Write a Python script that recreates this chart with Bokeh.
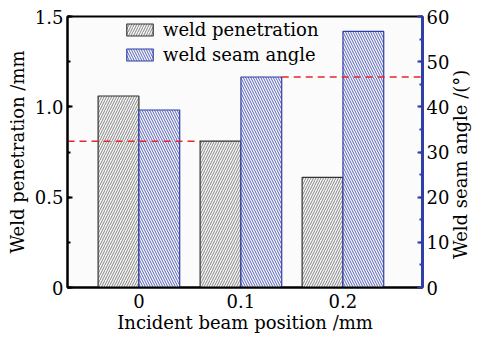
import math
from bokeh.plotting import figure
from bokeh.models import (Range1d, LinearAxis, FixedTicker, SingleIntervalTicker,
                          Legend, LegendItem, ColumnDataSource)
from bokeh.embed import file_html
from bokeh.resources import INLINE

positions = ["0", "0.1", "0.2"]
penetration = [1.06, 0.81, 0.61]      # mm
seam_angle = [39.3, 46.6, 56.7]       # degrees
pen_ticks = ["0", "0.5", "1.0", "1.5"]
ang_ticks = ["0", "10", "20", "30", "40", "50", "60"]

FONT = "DejaVu Serif"
BLUE = "#2f3fa6"
FS = "18px"

idx = list(range(len(positions)))
x_lo, x_hi = -0.70, 2.78

p = figure(width=484, height=337, output_backend="svg", toolbar_location=None,
           x_range=Range1d(x_lo, x_hi), y_range=Range1d(0, 1.5),
           min_border_left=67, min_border_right=55, min_border_top=16, min_border_bottom=50)
p.extra_y_ranges = {"ang": Range1d(0, 60)}
p.grid.visible = False
p.background_fill_color = "#fbfbfb"
p.border_fill_color = "white"
p.outline_line_color = "black"
p.outline_line_width = 2

src1 = ColumnDataSource(dict(x=[i - 0.2 for i in idx], top=penetration))
src2 = ColumnDataSource(dict(x=[i + 0.2 for i in idx], top=seam_angle))

r1 = p.vbar(x="x", top="top", width=0.4, source=src1, fill_color="#f7f7f7",
            line_color="#333333", line_width=1.2,
            hatch_pattern="right_diagonal_line", hatch_color="#666666",
            hatch_scale=5, hatch_weight=0.8)
r2 = p.vbar(x="x", top="top", width=0.4, source=src2, fill_color="#f7f7fb",
            line_color=BLUE, line_width=1.2, y_range_name="ang",
            hatch_pattern="left_diagonal_line", hatch_color=BLUE,
            hatch_scale=5, hatch_weight=0.8)

# dashed reference lines
p.segment(x0=[x_lo], y0=[penetration[1]], x1=[idx[1] - 0.4], y1=[penetration[1]],
          line_color="#e8262a", line_dash="7 5", line_width=1.5)
p.segment(x0=[idx[1] + 0.4], y0=[seam_angle[1]], x1=[x_hi], y1=[seam_angle[1]],
          line_color="#e8262a", line_dash="7 5", line_width=1.5, y_range_name="ang")

# x axis
xa = p.xaxis[0]
xa.ticker = FixedTicker(ticks=idx)
xa.major_label_overrides = {i: s for i, s in zip(idx, positions)}
xa.major_tick_in = 0
xa.major_tick_out = 0
xa.minor_tick_in = 0
xa.minor_tick_out = 0
xa.axis_line_width = 2
xa.axis_label = "Incident beam position /mm"

# left y axis
ya = p.yaxis[0]
ya.ticker = SingleIntervalTicker(interval=0.5, num_minor_ticks=2)
ya.major_label_overrides = {i * 0.5: s for i, s in enumerate(pen_ticks)}
ya.axis_label = "Weld penetration /mm"
ya.axis_line_width = 2

# right y axis
right_title = "Weld seam angle /(°)"
ra = LinearAxis(y_range_name="ang", axis_label=right_title,
                ticker=SingleIntervalTicker(interval=10, num_minor_ticks=2))
ra.major_label_overrides = {i * 10: s for i, s in enumerate(ang_ticks)}
ra.axis_line_color = BLUE
ra.axis_line_width = 3
ra.major_tick_line_color = BLUE
ra.minor_tick_line_color = BLUE
props = LinearAxis.properties()
if "axis_label_orientation" in props:
    ra.axis_label_orientation = math.pi / 2
    if "axis_label_align" in props:
        ra.axis_label_align = "start"
        ra.axis_label = "\u00a0" * 5 + right_title
p.add_layout(ra, "right")

for ax in [xa, ya, ra]:
    ax.major_label_text_font = FONT
    ax.major_label_text_font_size = FS
    ax.major_label_text_color = "black"
    ax.axis_label_text_font = FONT
    ax.axis_label_text_font_size = FS
    ax.axis_label_text_font_style = "normal"
    ax.axis_label_text_color = "black"
for ax in [ya, ra]:
    ax.major_tick_in = 5
    ax.major_tick_out = 0
    ax.minor_tick_in = 3
    ax.minor_tick_out = 0
    ax.major_tick_line_width = 2
    ax.minor_tick_line_width = 2
ya.major_label_standoff = 4
ra.major_label_standoff = 4
xa.major_label_standoff = 6
ya.axis_label_standoff = 4
ra.axis_label_standoff = 8
xa.axis_label_standoff = 1

legend = Legend(items=[LegendItem(label="weld penetration", renderers=[r1]),
                       LegendItem(label="weld seam angle", renderers=[r2])],
                location=(56, 222))
legend.border_line_color = None
legend.background_fill_alpha = 0
legend.padding = 0
legend.margin = 0
legend.spacing = 4
legend.glyph_width = 33
legend.glyph_height = 15
legend.label_height = 20
legend.label_standoff = 7
legend.label_text_font = FONT
legend.label_text_font_size = FS
legend.label_text_color = "black"
p.add_layout(legend)

open("out.html", "w").write(file_html(p, INLINE))
